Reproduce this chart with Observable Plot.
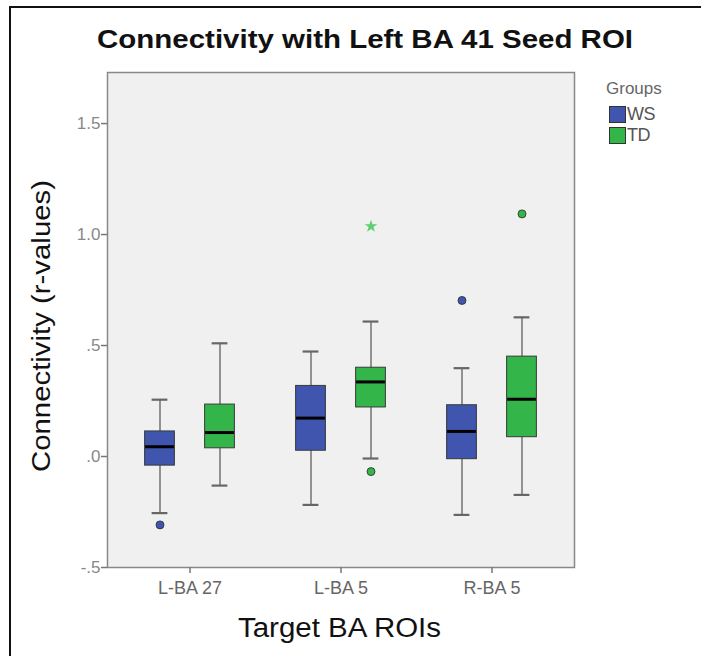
<!DOCTYPE html>
<html>
<head>
<meta charset="utf-8">
<script src="https://cdn.jsdelivr.net/npm/d3@7"></script>
<script src="https://cdn.jsdelivr.net/npm/@observablehq/plot@0.6"></script>
<style>
  html, body { margin: 0; padding: 0; background: #fff; }
  #wrap { position: relative; width: 701px; height: 656px; overflow: hidden; font-family: "Liberation Sans", Arial, sans-serif; }
  #border { position: absolute; left: 9px; top: 6px; right: -5px; bottom: -5px; border-left: 2px solid #111; border-top: 2px solid #111; }
  #legend { position: absolute; left: 606px; top: 79px; color: #666; }
  #legend .head { font-size: 17px; margin-bottom: 5px; }
  #legend .item { display: flex; align-items: center; height: 21px; color: #555; font-size: 18px; letter-spacing: -0.5px; }
  #legend .sw { width: 17px; height: 17px; border: 1px solid #333; box-sizing: border-box; margin-right: 1px; margin-left: 3px; }
  #chart { position: absolute; left: 0; top: 0; }
</style>
</head>
<body>
<div id="wrap">
  <div id="border"></div>
  <div id="chart"></div>
  <div id="legend">
    <div class="head">Groups</div>
    <div class="item"><div class="sw" style="background:#3f55ae"></div>WS</div>
    <div class="item"><div class="sw" style="background:#33b549"></div>TD</div>
  </div>
</div>
<script>
// ---- Data ----
const categories = ["L-BA 27", "L-BA 5", "R-BA 5"];
const groups = ["WS", "TD"];
const groupColors = ["#3f55ae", "#33b549"];

// per group, per category
const whiskerLow  = { WS: [-0.255, -0.218, -0.263], TD: [-0.131, -0.009, -0.173] };
const q1          = { WS: [-0.041,  0.026, -0.012], TD: [ 0.037,  0.221,  0.087] };
const median      = { WS: [ 0.044,  0.173,  0.113], TD: [ 0.108,  0.336,  0.258] };
const q3          = { WS: [ 0.113,  0.318,  0.231], TD: [ 0.234,  0.400,  0.450] };
const whiskerHigh = { WS: [ 0.256,  0.473,  0.398], TD: [ 0.510,  0.608,  0.627] };

// outliers: circles (mild) and stars (extreme)
const outlierCat   = ["L-BA 27", "L-BA 5", "R-BA 5", "R-BA 5"];
const outlierGroup = ["WS", "TD", "WS", "TD"];
const outlierValue = [-0.308, -0.068, 0.703, 1.093];
const extremeCat   = ["L-BA 5"];
const extremeGroup = ["TD"];
const extremeValue = [1.037];

const yTicks = [-0.5, 0, 0.5, 1.0, 1.5];

const titleText = "Connectivity with Left BA 41 Seed ROI";
const xTitle = "Target BA ROIs";
const yTitle = "Connectivity (r-values)";

// ---- Build tables ----
const boxes = [];
for (const g of groups) {
  categories.forEach((c, i) => {
    boxes.push({ cat: c, group: g, lo: whiskerLow[g][i], q1: q1[g][i], med: median[g][i], q3: q3[g][i], hi: whiskerHigh[g][i] });
  });
}
const outliers = outlierCat.map((c, i) => ({ cat: c, group: outlierGroup[i], v: outlierValue[i] }));
const extremes = extremeCat.map((c, i) => ({ cat: c, group: extremeGroup[i], v: extremeValue[i] }));

const offset = { WS: -30, TD: 30 };
const colorOf = g => groupColors[groups.indexOf(g)];
const spssFmt = v => v.toFixed(1).replace(/^(-?)0\./, "$1.");

const marginLeft = 107, marginRight = 127, marginTop = 72, marginBottom = 89;
const plotW = 701 - marginLeft - marginRight;
const padI = 0.2, padO = 0.141;
const step = plotW / (categories.length - padI + 2 * padO);
const bw = step * (1 - padI);
const boxW = 30, capW = 16;
const boxInset = (bw - boxW) / 2;
const capInset = (bw - capW) / 2;

const marks = [
  Plot.frame({ fill: "#f0f0f0", stroke: "none" }),
];

for (const g of groups) {
  const data = boxes.filter(d => d.group === g);
  const dx = offset[g];
  const col = colorOf(g);
  marks.push(
    Plot.ruleX(data, { x: "cat", y1: "lo", y2: "hi", dx, stroke: "#7a7a7a", strokeWidth: 1.6 }),
    Plot.tickY(data, { x: "cat", y: "lo", dx, insetLeft: capInset, insetRight: capInset, stroke: "#666", strokeWidth: 2.2 }),
    Plot.tickY(data, { x: "cat", y: "hi", dx, insetLeft: capInset, insetRight: capInset, stroke: "#666", strokeWidth: 2.2 }),
    Plot.barY(data, { x: "cat", y1: "q1", y2: "q3", dx, insetLeft: boxInset, insetRight: boxInset, fill: col, stroke: "#3a3a3a", strokeWidth: 1 }),
    Plot.tickY(data, { x: "cat", y: "med", dx, insetLeft: boxInset + 0.5, insetRight: boxInset + 0.5, stroke: "#000", strokeWidth: 3 }),
    Plot.dot(outliers.filter(d => d.group === g), { x: "cat", y: "v", dx, r: 4, fill: col, stroke: "#2a2a2a", strokeWidth: 0.8 }),
    Plot.dot(extremes.filter(d => d.group === g), { x: "cat", y: "v", dx, r: 4, symbol: "star", fill: "#5fd071", stroke: "none" })
  );
}

marks.push(
  Plot.frame({ stroke: "#888", strokeWidth: 1.5, fill: "none" }),
  Plot.axisY(yTicks, { tickFormat: spssFmt, tickSize: 6, tickPadding: 1, fontSize: 17, color: "#888", stroke: "#777", strokeWidth: 1.5, label: null }),
  Plot.axisX({ tickSize: 6, tickPadding: 8, fontSize: 18, color: "#666", stroke: "#777", strokeWidth: 1.5, label: null })
);

const chart = Plot.plot({
  width: 701,
  height: 656,
  marginLeft, marginRight, marginTop, marginBottom,
  style: { background: "transparent", fontFamily: "Liberation Sans, Arial, sans-serif", overflow: "visible" },
  x: { type: "band", domain: categories, paddingInner: padI, paddingOuter: padO, label: null },
  y: { domain: [-0.5, 1.73], label: null },
  marks
});

// Titles as text appended into the SVG
const svg = d3.select(chart);
const ff = "Liberation Sans, Arial, sans-serif";
svg.append("text")
  .attr("x", 97).attr("y", 48).attr("text-anchor", "start")
  .attr("font-size", 26).attr("font-weight", "bold")
  .attr("font-family", ff).attr("fill", "#111")
  .attr("textLength", 536).attr("lengthAdjust", "spacingAndGlyphs")
  .text(titleText);
svg.append("text")
  .attr("x", 238).attr("y", 637).attr("text-anchor", "start")
  .attr("font-size", 27)
  .attr("font-family", ff).attr("fill", "#111")
  .attr("textLength", 203).attr("lengthAdjust", "spacingAndGlyphs")
  .text(xTitle);
svg.append("text")
  .attr("transform", `translate(50, 472) rotate(-90)`).attr("text-anchor", "start")
  .attr("font-size", 25)
  .attr("font-family", ff).attr("fill", "#111")
  .attr("textLength", 292).attr("lengthAdjust", "spacingAndGlyphs")
  .text(yTitle);

document.getElementById("chart").appendChild(chart);
</script>
</body>
</html>
